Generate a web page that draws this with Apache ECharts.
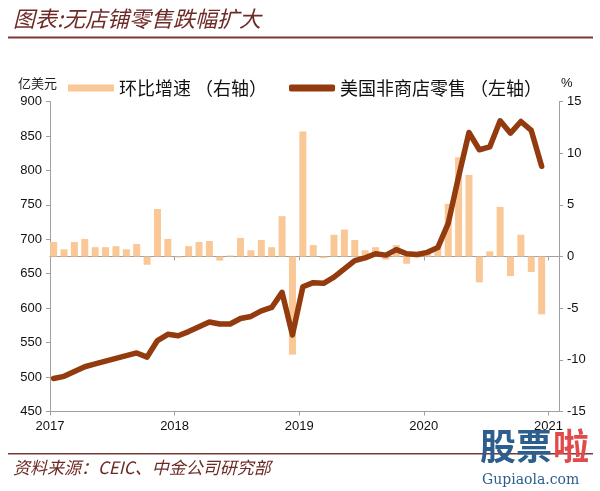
<!DOCTYPE html>
<html>
<head>
<meta charset="utf-8">
<script src="https://cdn.jsdelivr.net/npm/echarts@6/dist/echarts.min.js"></script>
<style>
  html, body { margin: 0; padding: 0; background: #fff; }
  #chart { width: 600px; height: 491px; }
</style>
</head>
<body>
<div id="chart"></div>
<script>
// months Jan 2017 .. Dec 2020
const years = [2017, 2018, 2019, 2020];
const yearTicks = [2017, 2018, 2019, 2020, 2021];

// 美国非商店零售 (亿美元, left axis)
const retail = [
    498, 501, 508, 515, 519, 523, 527, 531, 535, 529, 553, 562,
    560, 566, 573, 580, 577, 577, 585, 588, 596, 601, 623, 561,
    631, 637, 636, 645, 657, 669, 673, 679, 677, 685, 679, 678,
    681, 688, 723, 791, 855, 830, 834, 872, 854, 871, 858, 806
];

// 环比增速 (%, right axis)
const mom = [
    1.4, 0.7, 1.4, 1.7, 0.9, 0.9, 1.0, 0.7, 1.2, -0.8, 4.6, 1.7,
    -0.1, 1.0, 1.4, 1.5, -0.4, 0.1, 1.8, 0.6, 1.6, 0.9, 3.9, -9.5,
    12.1, 1.1, -0.15, 2.1, 2.6, 1.6, 0.6, 0.9, -0.3, 1.1, -0.7, -0.1,
    0.4, 1.0, 5.1, 9.6, 7.9, -2.5, 0.5, 4.8, -1.9, 2.1, -1.5, -5.6
];

const leftTicks = { min: 450, max: 900, step: 50 };
const rightTicks = { min: -15, max: 15, step: 5 };

const GRAY = "#a0a0a0";
const DARK = "#6e2a26";

// x position of each month on the year axis
const monthX = [];
years.forEach(y => {
    for (let m = 0; m < 12; m++) monthX.push(y + (m + 0.35) / 12);
});

const lineData = retail.map((v, i) => [monthX[i], v]);
const barData = mom.map((v, i) => [monthX[i], v]);

const chart = echarts.init(document.getElementById("chart"), null, { renderer: "canvas" });

const xCommon = {
    type: "value",
    min: 2017,
    max: 2021.085,
    splitLine: { show: false },
    axisLine: { lineStyle: { color: GRAY, width: 1 } },
    axisTick: { length: 4, lineStyle: { color: GRAY }, customValues: yearTicks }
};

const option = {
    animation: false,
    textStyle: { fontFamily: "Liberation Sans" },
    grid: { left: 50, right: 41, top: 101.5, bottom: 79.5, containLabel: false },
    legend: {
        left: 63,
        top: 74,
        itemWidth: 46,
        itemHeight: 7,
        itemGap: 22,
        textStyle: { fontFamily: "Noto Sans CJK SC", fontSize: 18, color: "#111" },
        data: [
            { name: "环比增速 （右轴）", icon: "rect" },
            { name: "美国非商店零售 （左轴）", icon: "roundRect" }
        ]
    },
    xAxis: [
        Object.assign({}, xCommon, {
            position: "bottom",
            axisLine: { onZero: false, lineStyle: { color: GRAY } },
            axisLabel: {
                customValues: yearTicks,
                color: "#111", fontSize: 13, margin: 8,
                formatter: v => String(Math.round(v))
            }
        }),
        Object.assign({}, xCommon, {
            position: "bottom",
            axisLine: { onZero: true, onZeroAxisIndex: 1, lineStyle: { color: GRAY } },
            axisLabel: { show: false }
        })
    ],
    yAxis: [
        {
            type: "value",
            position: "left",
            min: leftTicks.min, max: leftTicks.max, interval: leftTicks.step,
            splitLine: { show: false },
            axisLine: { show: true, lineStyle: { color: GRAY } },
            axisTick: { show: true, length: 4, lineStyle: { color: GRAY } },
            axisLabel: { color: "#111", fontSize: 13, margin: 8 }
        },
        {
            type: "value",
            position: "right",
            min: rightTicks.min, max: rightTicks.max, interval: rightTicks.step,
            splitLine: { show: false },
            axisLine: { show: true, lineStyle: { color: GRAY } },
            axisTick: { show: true, length: 4, lineStyle: { color: GRAY } },
            axisLabel: { color: "#111", fontSize: 13, margin: 8 }
        }
    ],
    series: [
        {
            name: "环比增速 （右轴）",
            type: "bar",
            xAxisIndex: 1,
            yAxisIndex: 1,
            barWidth: 7,
            itemStyle: { color: "#f9c896" },
            data: barData,
            z: 2
        },
        {
            name: "美国非商店零售 （左轴）",
            type: "line",
            xAxisIndex: 0,
            yAxisIndex: 0,
            symbol: "none",
            itemStyle: { color: "#933a0e" },
            lineStyle: { color: "#933a0e", width: 5.5, cap: "round", join: "round" },
            data: lineData,
            z: 3
        }
    ],
    graphic: [
        {
            type: "text", left: 13, top: 8,
            style: { text: "图表:无店铺零售跌幅扩大", fontFamily: "Noto Sans CJK SC", fontStyle: "italic",
                fontSize: 22, fill: DARK }
        },
        { type: "rect", shape: { x: 8, y: 36.5, width: 585, height: 2 }, style: { fill: "#7a3b36" } },
        {
            type: "text", left: 18, top: 77,
            style: { text: "亿美元", fontFamily: "Noto Sans CJK SC", fontSize: 13, fill: "#222" }
        },
        {
            type: "text", left: 561, top: 77,
            style: { text: "%", fontFamily: "Liberation Sans", fontSize: 13, fill: "#111" }
        },
        { type: "rect", shape: { x: 8, y: 453, width: 585, height: 1.5 }, style: { fill: "#7a3b36" } },
        {
            type: "text", left: 13, top: 459,
            style: { text: "资料来源：CEIC、中金公司研究部", fontFamily: "Noto Sans CJK SC", fontStyle: "italic",
                fontSize: 17, fill: DARK }
        },
        {
            type: "text", left: 480, top: 428,
            style: { text: "股票", fontFamily: "Noto Sans CJK SC", fontWeight: "bold",
                fontSize: 36, fill: "#2d5f8e" }
        },
        {
            type: "text", left: 553, top: 428,
            style: { text: "啦", fontFamily: "Noto Sans CJK SC", fontWeight: "bold",
                fontSize: 36, fill: "#e04a4a" }
        },
        {
            type: "text", left: 482, top: 473,
            style: { text: "Gupiaola.com", fontFamily: "DejaVu Serif", fontSize: 14, fill: "#2d5f8e" }
        }
    ]
};

chart.setOption(option);
</script>
</body>
</html>
